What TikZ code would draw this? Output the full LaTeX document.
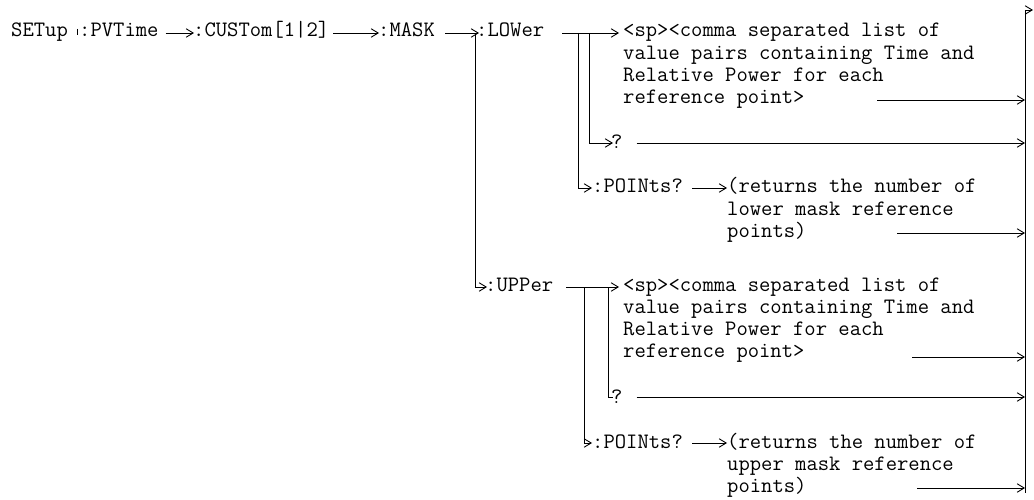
\documentclass[tikz,border=0pt]{standalone}
\usetikzlibrary{arrows.meta,calc}
\begin{document}
\begin{tikzpicture}[x=1pt,y=-1pt,
  lbl/.style={anchor=base west, inner sep=0pt, font=\fontsize{22}{22.3}\selectfont\ttfamily, text=black},
  ln/.style={line width=0.9pt, draw=black},
  arr/.style={ln, -{Straight Barb[length=7pt,width=8.5pt,line width=0.9pt]}}]
\useasboundingbox (0,0) rectangle (1034,500);

% labels
\node[lbl] (setup)  at (11,37)  {SETup};
\node[lbl] (pvtime) at (79,37)  {:PVTime};
\node[lbl] (custom) at (193,37) {:CUSTom[1|2]};
\node[lbl] (mask)   at (378,37) {:MASK};
\node[lbl] (lower)  at (476,37) {:LOWer};
\node[lbl] (lval)   at (623,37) {\vtop{\hbox{<sp><comma separated list of}\hbox{value pairs containing Time and}\hbox{Relative Power for each}\hbox{reference point>}}};
\node[lbl] (lq)     at (611,149) {?};
\node[lbl] (lpts)   at (592,193) {:POINts?};
\node[lbl] (lret)   at (727,193) {\vtop{\hbox{(returns the number of}\hbox{lower mask reference}\hbox{points)}}};
\node[lbl] (upper)  at (485,291) {:UPPer};
\node[lbl] (uval)   at (623,291) {\vtop{\hbox{<sp><comma separated list of}\hbox{value pairs containing Time and}\hbox{Relative Power for each}\hbox{reference point>}}};
\node[lbl] (uq)     at (611,403) {?};
\node[lbl] (upts)   at (592,448) {:POINts?};
\node[lbl] (uret)   at (727,448) {\vtop{\hbox{(returns the number of}\hbox{upper mask reference}\hbox{points)}}};

% small tick between SETup and :PVTime
\coordinate (tickA) at (77,29);
\coordinate (tickB) at (77,35);
\draw[line width=0.6pt] (tickA) -- (tickB);

% right collecting line
\coordinate (rtop) at (1025,10);
\coordinate (rbot) at (1025,493);
\coordinate (rtip) at (1033,10);
\draw[ln] (rtop) -- (rbot);
\draw[arr] (rtop) -- (rtip);

% main chain
\draw[arr] ([xshift=7pt,yshift=4pt]pvtime.base east) -- ([xshift=1pt,yshift=4pt]custom.base west);
\draw[arr] ([xshift=4pt,yshift=4pt]custom.base east) -- ([xshift=1pt,yshift=4pt]mask.base west);
\draw[arr] ([xshift=10pt,yshift=4pt]mask.base east) -- ([xshift=3pt,yshift=4pt]lower.base west);
\coordinate (mj) at (475,33);
\draw[arr] (mj) |- ([xshift=2pt,yshift=4pt]upper.base west);

% LOWer branch
\draw[arr] ([xshift=18pt,yshift=4pt]lower.base east) -- ([xshift=-4pt,yshift=4pt]lval.base west);
\coordinate (lj1) at (578,33);
\coordinate (lj2) at (589,33);
\draw[arr] (lj2) |- ([xshift=2pt,yshift=6pt]lq.base west);
\draw[arr] (lj1) |- ([xshift=0pt,yshift=5pt]lpts.base west);
\draw[arr] ([xshift=9pt,yshift=5pt]lpts.base east) -- ([xshift=0pt,yshift=5pt]lret.base west);
\coordinate (lvs) at (877,100);
\draw[arr] (lvs) -- (lvs -| rtop);
\coordinate (lqs) at ([xshift=14pt,yshift=6pt]lq.base east);
\draw[arr] (lqs) -- (lqs -| rtop);
\coordinate (lrs) at (897,233);
\draw[arr] (lrs) -- (lrs -| rtop);

% UPPer branch
\draw[arr] ([xshift=13pt,yshift=4pt]upper.base east) -- ([xshift=-4pt,yshift=4pt]uval.base west);
\coordinate (uj1) at (584,287);
\coordinate (uj2) at (608,287);
\draw[ln] (uj2) |- ([xshift=2pt,yshift=6pt]uq.base west);
\draw[arr] (uj1) |- ([xshift=0pt,yshift=5pt]upts.base west);
\draw[arr] ([xshift=9pt,yshift=5pt]upts.base east) -- ([xshift=0pt,yshift=5pt]uret.base west);
\coordinate (uvs) at (912,357);
\draw[arr] (uvs) -- (uvs -| rtop);
\coordinate (uqs) at ([xshift=14pt,yshift=6pt]uq.base east);
\draw[arr] (uqs) -- (uqs -| rtop);
\coordinate (urs) at (917,488);
\draw[arr] (urs) -- (urs -| rtop);
\end{tikzpicture}
\end{document}
